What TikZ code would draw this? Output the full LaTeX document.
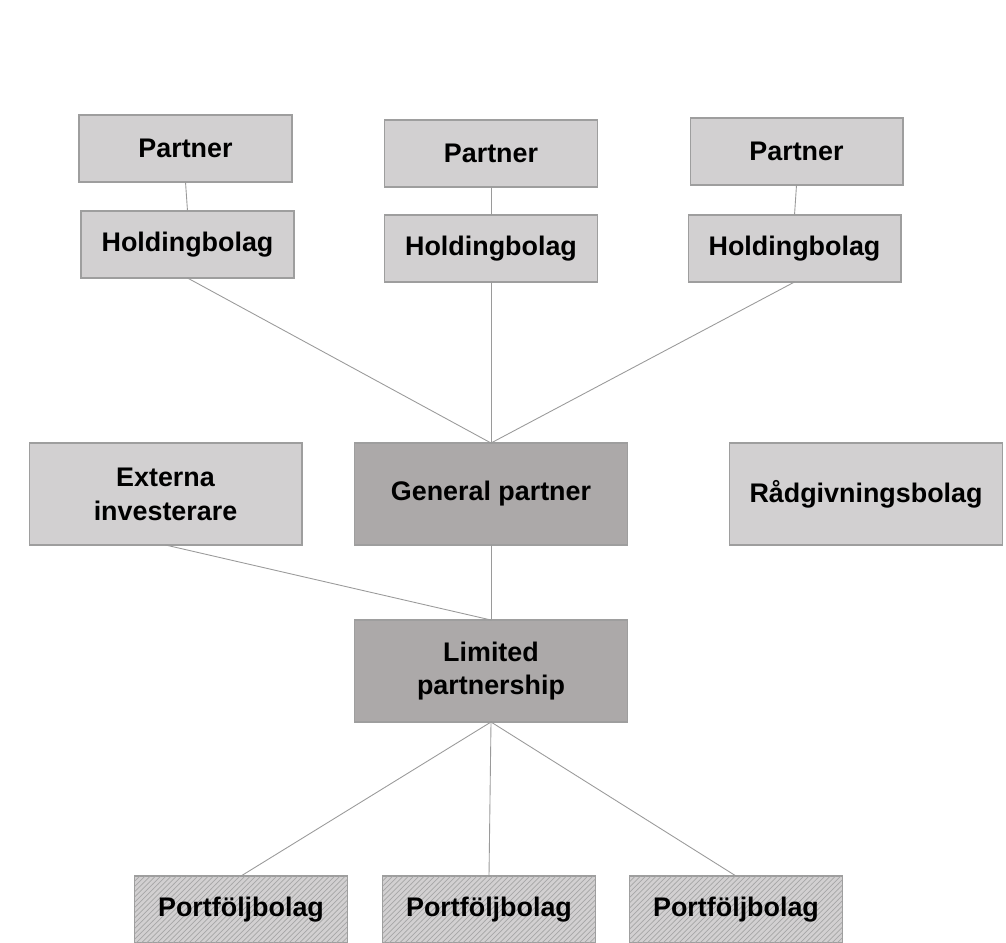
\documentclass[tikz,border=0pt]{standalone}
\usepackage{fontspec}
\setmainfont{Liberation Sans}
\usetikzlibrary{patterns}

\definecolor{boxlight}{HTML}{D2D0D1}
\definecolor{boxdark}{HTML}{ACA9A9}
\definecolor{boxedge}{HTML}{9E9E9E}
\definecolor{linkgray}{HTML}{9A9A9A}

\begin{document}
\begin{tikzpicture}[
        x=0.02cm, y=-0.02cm,
        entity/.style={draw=boxedge, line width=0.6pt, fill=boxlight, inner sep=0pt,
            outer sep=0pt, align=center, font=\fontsize{15.3}{19.3}\selectfont\bfseries},
        small/.style={entity, minimum width=4.26cm, minimum height=1.34cm},
        big/.style={entity, minimum width=5.46cm, minimum height=2.04cm},
        fund/.style={big, fill=boxdark},
        target/.style={small, postaction={pattern=north east lines, pattern color=gray!70}},
        link/.style={draw=linkgray, line width=0.5pt}
    ]

        % Frame of the whole picture
        \clip (0,0) rectangle (1006,942);

        % Partners and their holding companies
        \node[small] (P1) at (185.5,148.5) {Partner};
        \node[small] (H1) at (187.5,244.5) {Holdingbolag};
        \node[small] (P2) at (491,153.5) {Partner};
        \node[small] (H2) at (491,248.5) {Holdingbolag};
        \node[small] (P3) at (796.5,151.5) {Partner};
        \node[small] (H3) at (794.5,248.5) {Holdingbolag};

        % Middle row
        \node[big] (EI) at (165.5,494) {Externa\\investerare};
        \node[fund] (GP) at (491,494) {General partner};
        \node[big] (RB) at (866,494) {Rådgivningsbolag};

        % Fund
        \node[fund] (LP) at (491,671) {Limited\\partnership};

        % Portfolio companies
        \node[target] (PF1) at (241,909.5) {Portföljbolag};
        \node[target] (PF2) at (489,909.5) {Portföljbolag};
        \node[target] (PF3) at (736,909.5) {Portföljbolag};

        % Ownership lines
        \draw[link] (P1.south) -- (H1.north);
        \draw[link] (P2.south) -- (H2.north);
        \draw[link] (P3.south) -- (H3.north);

        \draw[link] (H1.south) -- (GP.north);
        \draw[link] (H2.south) -- (GP.north);
        \draw[link] (H3.south) -- (GP.north);

        \draw[link] (EI.south) -- (LP.north);
        \draw[link] (GP.south) -- (LP.north);

        \draw[link] (LP.south) -- (PF1.north);
        \draw[link] (LP.south) -- (PF2.north);
        \draw[link] (LP.south) -- (PF3.north);

    \end{tikzpicture}
\end{document}
